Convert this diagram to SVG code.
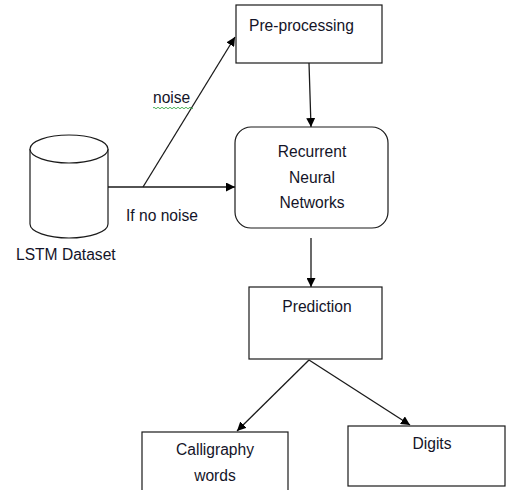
<svg xmlns="http://www.w3.org/2000/svg" width="506" height="490" viewBox="0 0 506 490">
  <style>
    .box { fill: #fff; stroke: #1a1a1a; stroke-width: 1.2; }
    .edge { fill: none; stroke: #1a1a1a; stroke-width: 1.3; }
    .lbl { font-family: "Liberation Sans", Arial, sans-serif; font-size: 15.6px; fill: #141428; }
    .mid { text-anchor: middle; }
  </style>
  <defs>
    <marker id="arrow" viewBox="0 0 10 10" refX="10" refY="5" markerWidth="9" markerHeight="9" markerUnits="userSpaceOnUse" orient="auto">
      <path d="M0,0 L10,5 L0,10 Z" fill="#000"/>
    </marker>
  </defs>

  <rect width="506" height="490" fill="#fff"/>

  <!-- connectors -->
  <g id="connectors">
    <line class="edge" x1="108" y1="187" x2="235" y2="187" marker-end="url(#arrow)"/>
    <line class="edge" x1="143" y1="187" x2="235" y2="37" marker-end="url(#arrow)"/>
    <line class="edge" x1="309" y1="63" x2="311" y2="127" marker-end="url(#arrow)"/>
    <line class="edge" x1="311" y1="238" x2="311" y2="287" marker-end="url(#arrow)"/>
    <line class="edge" x1="309" y1="360" x2="237" y2="431" marker-end="url(#arrow)"/>
    <line class="edge" x1="309" y1="360" x2="410" y2="425" marker-end="url(#arrow)"/>
    <text class="lbl" x="153" y="103">noise</text>
    <path d="M153,108 q1,-1.5 2,0 t2,0 t2,0 t2,0 t2,0 t2,0 t2,0 t2,0 t2,0 t2,0 t2,0 t2,0 t2,0 t2,0 t2,0 t2,0 t2,0 t2,0 t2,0 t2,0" fill="none" stroke="#3aa84a" stroke-width="0.9"/>
    <text class="lbl" x="126" y="221">If no noise</text>
  </g>

  <!-- data store -->
  <g id="lstm-dataset">
    <path class="box" d="M30,149 L30,224 A39,14 0 0 0 108,224 L108,149"/>
    <ellipse class="box" cx="69" cy="149" rx="39" ry="14"/>
    <text class="lbl" x="16" y="260">LSTM Dataset</text>
  </g>

  <g id="pre-processing">
    <rect class="box" x="236" y="5" width="146" height="58"/>
    <text class="lbl" x="249" y="31">Pre-processing</text>
  </g>

  <g id="rnn">
    <rect class="box" x="235" y="127" width="153" height="101" rx="16" ry="16"/>
    <text class="lbl mid" x="312" y="157">Recurrent</text>
    <text class="lbl mid" x="312" y="183">Neural</text>
    <text class="lbl mid" x="312" y="208">Networks</text>
  </g>

  <g id="prediction">
    <rect class="box" x="249" y="287" width="133" height="72"/>
    <text class="lbl mid" x="317" y="312">Prediction</text>
  </g>

  <g id="calligraphy">
    <rect class="box" x="142" y="432" width="146" height="70"/>
    <text class="lbl mid" x="215" y="455">Calligraphy</text>
    <text class="lbl mid" x="215" y="481">words</text>
  </g>

  <g id="digits">
    <rect class="box" x="348" y="426" width="157" height="60"/>
    <text class="lbl mid" x="432" y="449">Digits</text>
  </g>
</svg>
